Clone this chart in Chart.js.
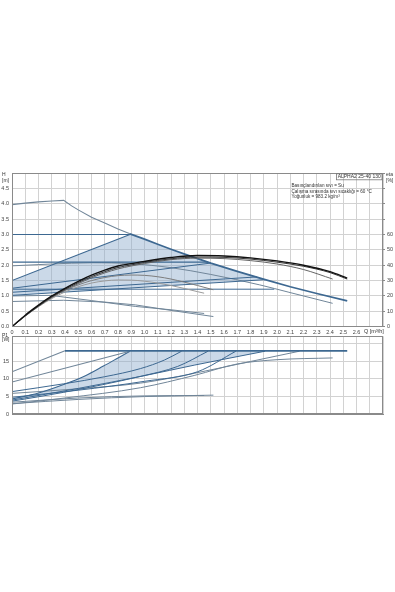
<!DOCTYPE html>
<html>
<head>
<meta charset="utf-8">
<script src="https://cdn.jsdelivr.net/npm/chart.js@4.4.1/dist/chart.umd.min.js"></script>
<style>
html, body { margin: 0; padding: 0; background: #fff; }
body { width: 395px; height: 592px; position: relative; overflow: hidden; }
#top { position: absolute; left: 0; top: 160px; width: 395px; height: 180px; }
#bot { position: absolute; left: 0; top: 330px; width: 395px; height: 95px; }
</style>
</head>
<body>
<canvas id="top" width="395" height="180"></canvas>
<canvas id="bot" width="395" height="95"></canvas>
<script>
// tick labels
const qLabels = ['0','0.1','0.2','0.3','0.4','0.5','0.6','0.7','0.8','0.9','1.0','1.1','1.2','1.3','1.4',
  '1.5','1.6','1.7','1.8','1.9','2.0','2.1','2.2','2.3','2.4','2.5','2.6','',''];
const hLabels = ['0.0','0.5','1.0','1.5','2.0','2.5','3.0','3.5','4.0','4.5',''];
const etaLabels = ['0','10','20','30','40','50','60','','','',''];
const pLabels = ['0','5','10','15','',''];
const pTicks = [0, 5, 10, 15, 20, 22];

// QH curves, H [m] over Q [m3/h]
const maxLowQ = [0, 0.1, 0.2, 0.3, 0.39, 0.45, 0.5, 0.6, 0.7, 0.8, 0.89];
const maxLowH = [3.97, 4.02, 4.06, 4.09, 4.11, 3.93, 3.8, 3.56, 3.37, 3.18, 3.02];
const maxHighQ = [0.89, 1.0, 1.1, 1.2, 1.33, 1.5, 1.7, 1.91, 2.1, 2.3, 2.53];
const maxHighH = [3.02, 2.85, 2.68, 2.52, 2.32, 2.07, 1.8, 1.53, 1.3, 1.08, 0.84];
const cp3Q = [0, 0.89];       const cp3H = [3.0, 3.0];
const pp3Q = [0, 0.89];       const pp3H = [1.5, 3.0];
const cp2Q = [0, 1.48];       const cp2H = [2.1, 2.1];
const ppAQ = [0, 1.5];        const ppAH = [1.25, 2.07];
const ppBQ = [0, 1.85];       const ppBH = [1.12, 1.62];
const aaLowQ = [0, 1.91];     const aaLowH = [1.02, 1.53];
const cp1Q = [0, 1.98];       const cp1H = [1.22, 1.22];
const sp3Q = [0, 0.3, 0.6, 0.9, 1.2, 1.5, 1.87, 2.09, 2.42];
const sp3H = [1.98, 2.04, 2.08, 2.05, 1.92, 1.7, 1.36, 1.12, 0.76];
const sp2Q = [0, 0.29, 0.6, 0.93, 1.2, 1.45];
const sp2H = [1.0, 1.02, 0.85, 0.66, 0.55, 0.43];
const sp1Q = [0, 0.39, 0.7, 0.93, 1.2, 1.52];
const sp1H = [0.82, 0.86, 0.8, 0.71, 0.53, 0.33];
// AUTOadapt area outline
const aaQ = [0, 0.89, 1.0, 1.1, 1.2, 1.33, 1.5, 1.7, 1.91, 0];
const aaH = [1.5, 3.0, 2.85, 2.68, 2.52, 2.32, 2.07, 1.8, 1.53, 1.02];

// efficiency curves, eta [%]
const e1Q = [0, 0.1, 0.2, 0.3, 0.4, 0.5, 0.6, 0.7, 0.8, 0.9, 1.0, 1.2, 1.4, 1.6, 1.8, 2.0, 2.2, 2.4, 2.53];
const e1 = [0, 7.5, 14, 20, 25, 29.5, 33.5, 36.8, 39.5, 41.0, 42.5, 45.0, 46.3, 46.0, 44.8, 42.8, 40.0, 35.8, 31.6];
const e2 = [0, 7.2, 13.6, 19.4, 24.3, 28.7, 32.6, 35.8, 38.5, 40.2, 41.8, 44.2, 45.3, 45.1, 44.0, 42.0, 39.3, 35.2, 31.0];
const e3Q = [0, 0.1, 0.2, 0.3, 0.4, 0.5, 0.6, 0.7, 0.8, 0.9, 1.0, 1.2, 1.4, 1.6, 1.8, 2.0, 2.2, 2.42];
const e3 = [0, 7, 13.3, 19, 23.8, 28, 31.8, 35, 37.6, 39.5, 41.1, 43.6, 44.6, 44.3, 43.0, 40.8, 37.2, 31.0];
const e4Q = [0, 0.1, 0.2, 0.3, 0.4, 0.5, 0.6, 0.7, 0.8, 0.9, 1.0, 1.1, 1.2, 1.3, 1.4, 1.52];
const e4 = [0, 7, 13.4, 19, 23.6, 27.2, 30, 32, 33.2, 33.6, 33.4, 32.5, 31, 29, 26.8, 24];
const e5Q = [0, 0.1, 0.2, 0.3, 0.4, 0.5, 0.6, 0.7, 0.8, 0.9, 1.0, 1.1, 1.2, 1.3, 1.4, 1.45];
const e5 = [0, 6.8, 13, 18.3, 22.6, 26, 28.4, 29.8, 30.4, 30.3, 29.6, 28.4, 26.8, 24.9, 22.8, 21.8];

// P1 curves, P1 [W]
const pMaxRampQ = [0, 0.4];   const pMaxRampP = [12.0, 17.9];
const pMaxFlatQ = [0.4, 2.53]; const pMaxFlatP = [17.9, 17.9];
const pCp3Q = [0, 0.89];      const pCp3P = [9.1, 17.8];
const pPp3Q = [0, 0.2, 0.39, 0.55, 0.69, 0.8, 0.89];
const pPp3P = [4.3, 6.0, 8.4, 10.8, 13.6, 15.9, 17.8];
const pCp2Q = [0, 0.39, 0.7, 0.97, 1.15, 1.28];
const pCp2P = [6.4, 8.6, 10.6, 12.9, 15.3, 17.8];
const pPpAQ = [0, 0.39, 0.97, 1.25, 1.48];
const pPpAP = [3.7, 6.2, 10.7, 13.5, 17.8];
const pPpBQ = [0, 0.5, 1.0, 1.4, 1.69];
const pPpBP = [4.8, 6.8, 9.3, 12.0, 17.8];
const pAaLowQ = [0, 0.5, 1.0, 1.38, 1.91];
const pAaLowP = [4.0, 7.3, 10.9, 13.9, 17.8];
const pCp1Q = [0, 0.5, 0.97, 1.38, 1.8, 2.17];
const pCp1P = [5.9, 7.2, 8.8, 11.6, 14.9, 17.8];
const pSp3Q = [0, 0.4, 0.97, 1.38, 1.7, 2.0, 2.42];
const pSp3P = [2.9, 4.6, 7.5, 11.0, 14.2, 15.4, 15.9];
const pSp2Q = [0, 0.5, 1.0, 1.45];  const pSp2P = [3.4, 4.6, 5.2, 5.3];
const pSp1Q = [0, 0.5, 1.0, 1.52];  const pSp1P = [3.0, 4.2, 5.0, 5.4];
const pAaQ = [0, 0.2, 0.39, 0.55, 0.69, 0.8, 0.89, 1.91, 1.38, 1.0, 0.5, 0];
const pAaP = [4.3, 6.0, 8.4, 10.8, 13.6, 15.9, 17.8, 17.8, 13.9, 10.9, 7.3, 4.0];

const BLUE = '#3d6891';
const GREYBLUE = '#718699';
const GRID = '#d2d2d2';
const AXIS = '#8a8a8a';
const TXT = '#444';
const FONT = { family: 'Liberation Sans, Arial, sans-serif', size: 5.5 };
const SHADE = 'rgba(140,170,205,0.45)';

function pts(qs, vs) {
  return qs.map((q, i) => ({ x: q, y: vs[i] }));
}

function curve(qs, vs, color, width, axis, smooth) {
  return {
    data: pts(qs, vs), borderColor: color, borderWidth: width, yAxisID: axis,
    pointRadius: 0, fill: false, tension: 0,
    cubicInterpolationMode: smooth ? 'monotone' : 'default'
  };
}

function area(qs, vs, axis) {
  return {
    data: pts(qs, vs), yAxisID: axis, fill: 'shape', backgroundColor: SHADE,
    borderWidth: 0, pointRadius: 0, tension: 0, order: 50
  };
}

function setTicks(vals) { return s => { s.ticks = vals.map(v => ({ value: v })); }; }
function fixW(w) { return s => { s.width = w; }; }
function fixH(h) { return s => { s.height = h; }; }

const qTicks = qLabels.map((_, i) => i / 10);
const hTicks = hLabels.map((_, i) => i / 2);
const etaTicks = etaLabels.map((_, i) => i * 10);

const frame = {
  id: 'frame',
  afterDraw(chart) {
    const a = chart.chartArea, ctx = chart.ctx;
    ctx.save();
    ctx.strokeStyle = AXIS;
    ctx.lineWidth = 1;
    ctx.strokeRect(Math.round(a.left) + 0.5, Math.round(a.top) + 0.5,
      Math.round(a.right - a.left) - 1, Math.round(a.bottom - a.top) - 1);
    ctx.restore();
  }
};

function texts(items, box) {
  return {
    id: 'texts',
    afterDraw(chart) {
      const ctx = chart.ctx;
      ctx.save();
      ctx.fillStyle = '#333';
      ctx.textBaseline = 'middle';
      items.forEach(t => {
        ctx.font = t.size + 'px Liberation Sans, Arial, sans-serif';
        ctx.textAlign = t.align || 'left';
        ctx.fillText(t.text, t.x, t.y);
      });
      if (box) {
        ctx.strokeStyle = '#777';
        ctx.lineWidth = 0.8;
        ctx.strokeRect(box.x, box.y, box.w, box.h);
      }
      ctx.restore();
    }
  };
}

new Chart(document.getElementById('top'), {
  type: 'line',
  data: {
    datasets: [
      curve(e1Q, e1, '#111', 1.4, 'y2', true),
      curve(e1Q, e2, '#3a3a3a', 1.0, 'y2', true),
      curve(e3Q, e3, '#666', 1.0, 'y2', true),
      curve(e4Q, e4, '#7d7d7d', 1.0, 'y2', true),
      curve(e5Q, e5, '#9a9a9a', 1.0, 'y2', true),
      curve(maxHighQ, maxHighH, BLUE, 1.7, 'y', false),
      curve(maxLowQ, maxLowH, GREYBLUE, 1.1, 'y', false),
      curve(cp3Q, cp3H, BLUE, 1.1, 'y', false),
      curve(pp3Q, pp3H, BLUE, 1.1, 'y', false),
      curve(cp2Q, cp2H, BLUE, 1.2, 'y', false),
      curve(ppAQ, ppAH, BLUE, 1.0, 'y', false),
      curve(ppBQ, ppBH, BLUE, 1.0, 'y', false),
      curve(aaLowQ, aaLowH, BLUE, 1.0, 'y', false),
      curve(cp1Q, cp1H, BLUE, 1.0, 'y', false),
      curve(sp3Q, sp3H, GREYBLUE, 1.0, 'y', true),
      curve(sp2Q, sp2H, GREYBLUE, 1.0, 'y', false),
      curve(sp1Q, sp1H, GREYBLUE, 1.0, 'y', false),
      area(aaQ, aaH, 'y')
    ]
  },
  options: {
    responsive: false,
    animation: false,
    layout: { padding: { top: 13, left: 0, right: 0, bottom: 0 } },
    plugins: { legend: { display: false }, tooltip: { enabled: false } },
    scales: {
      x: {
        type: 'linear', min: 0, max: 2.8,
        afterBuildTicks: setTicks(qTicks), afterFit: fixH(13.3),
        grid: { color: GRID, drawTicks: false },
        border: { color: AXIS },
        ticks: { autoSkip: false, maxRotation: 0, padding: 2, font: FONT, color: TXT,
          callback: (v, i) => qLabels[i] }
      },
      y: {
        position: 'left', min: 0, max: 5,
        afterBuildTicks: setTicks(hTicks), afterFit: fixW(12),
        grid: { color: GRID, drawTicks: false },
        border: { color: AXIS },
        ticks: { padding: 3, font: FONT, color: TXT, callback: (v, i) => hLabels[i] }
      },
      y2: {
        position: 'right', min: 0, max: 100,
        afterBuildTicks: setTicks(etaTicks), afterFit: fixW(12),
        grid: { drawOnChartArea: false, drawTicks: true, tickLength: 2, color: AXIS },
        border: { display: false },
        ticks: { padding: 2, font: FONT, color: TXT, callback: (v, i) => etaLabels[i] }
      }
    }
  },
  plugins: [frame, texts([
    { text: 'H', x: 2, y: 15, size: 5 },
    { text: '[m]', x: 2, y: 20.5, size: 5 },
    { text: 'eta', x: 386, y: 15, size: 5 },
    { text: '[%]', x: 386, y: 20.5, size: 5 },
    { text: 'Q [m³/h]', x: 364, y: 171.6, size: 5.5 },
    { text: 'ALPHA2 25-40 130', x: 359.2, y: 16.8, size: 5, align: 'center' },
    { text: 'Basınçlandırılan sıvı = Su', x: 291.5, y: 25.7, size: 4.6 },
    { text: 'Çalışma sırasında sıvı sıcaklığı = 60 °C', x: 291.5, y: 31.4, size: 4.6 },
    { text: 'Yoğunluk = 983.2 kg/m³', x: 291.5, y: 36.8, size: 4.6 }
  ], { x: 336.5, y: 13.8, w: 45.5, h: 6 })]
});

new Chart(document.getElementById('bot'), {
  type: 'line',
  data: {
    datasets: [
      curve(pMaxFlatQ, pMaxFlatP, BLUE, 1.6, 'y', false),
      curve(pMaxRampQ, pMaxRampP, GREYBLUE, 1.1, 'y', false),
      curve(pCp3Q, pCp3P, GREYBLUE, 1.1, 'y', false),
      curve(pPp3Q, pPp3P, BLUE, 1.1, 'y', true),
      curve(pCp2Q, pCp2P, BLUE, 1.0, 'y', true),
      curve(pPpAQ, pPpAP, BLUE, 1.0, 'y', true),
      curve(pPpBQ, pPpBP, BLUE, 1.0, 'y', true),
      curve(pAaLowQ, pAaLowP, BLUE, 1.0, 'y', true),
      curve(pCp1Q, pCp1P, GREYBLUE, 1.0, 'y', true),
      curve(pSp3Q, pSp3P, GREYBLUE, 1.0, 'y', true),
      curve(pSp2Q, pSp2P, GREYBLUE, 1.0, 'y', true),
      curve(pSp1Q, pSp1P, GREYBLUE, 1.0, 'y', true),
      area(pAaQ, pAaP, 'y')
    ]
  },
  options: {
    responsive: false,
    animation: false,
    layout: { padding: { top: 4, left: 0, right: 12, bottom: 0 } },
    plugins: { legend: { display: false }, tooltip: { enabled: false } },
    scales: {
      x: {
        type: 'linear', min: 0, max: 2.8,
        afterBuildTicks: setTicks(qTicks), afterFit: fixH(10.7),
        grid: { color: GRID, drawTicks: false },
        border: { color: AXIS },
        ticks: { display: false }
      },
      y: {
        position: 'left', min: 0, max: 22,
        afterBuildTicks: setTicks(pTicks), afterFit: fixW(12),
        grid: { color: GRID, drawTicks: false },
        border: { color: AXIS },
        ticks: { padding: 3, font: FONT, color: TXT, callback: (v, i) => pLabels[i] }
      }
    }
  },
  plugins: [frame, texts([
    { text: 'P1', x: 2, y: 5.3, size: 5 },
    { text: '[W]', x: 2, y: 9.6, size: 5 }
  ], null)]
});
</script>
</body>
</html>
